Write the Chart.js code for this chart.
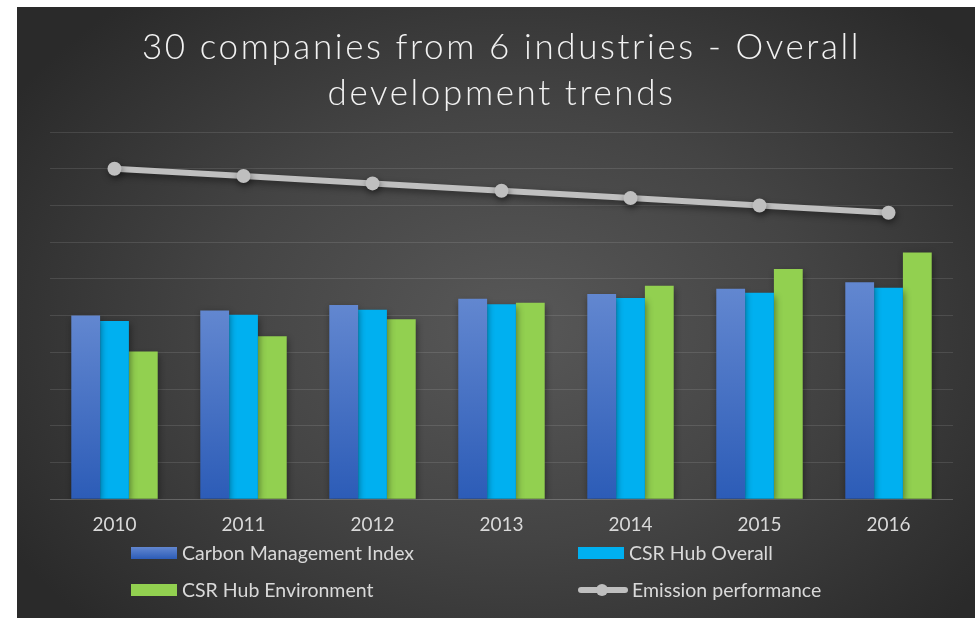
<!DOCTYPE html>
<html>
<head>
<meta charset="utf-8">
<title>30 companies from 6 industries - Overall development trends</title>
<script src="https://cdn.jsdelivr.net/npm/chart.js@4/dist/chart.umd.min.js"></script>
<style>
    body {
        margin: 0;
        background: #ffffff;
    }
    .chart-wrap {
        position: absolute;
        left: 17px;
        top: 7px;
        width: 958px;
        height: 611px;
        overflow: hidden;
        background: radial-gradient(ellipse 62% 70% at 52% 52%, #585858 0%, #444444 50%, #2a2a2a 100%);
    }
    #chart {
        display: block;
    }
    .legend {
        position: absolute;
        left: 114px;
        top: 527px;
        display: grid;
        grid-template-columns: 447px auto;
        grid-auto-rows: 37px;
        font-family: "Lato", "Open Sans", sans-serif;
        font-size: 19.5px;
        color: #d9d9d9;
    }
    .legend__item {
        display: flex;
        align-items: center;
    }
    .legend__box {
        width: 46px;
        height: 12px;
        margin-right: 5px;
    }
    .legend__line {
        position: relative;
        width: 50px;
        height: 6px;
        margin-right: 4px;
        border-radius: 3px;
    }
    .legend__line::after {
        content: "";
        position: absolute;
        left: 18px;
        top: -3px;
        width: 12px;
        height: 12px;
        border-radius: 50%;
        background: inherit;
    }
</style>
</head>
<body>
<div class="chart-wrap">
    <canvas id="chart" width="958" height="611"></canvas>
    <div class="legend" id="legend"></div>
</div>
<script>
const years = ["2010", "2011", "2012", "2013", "2014", "2015", "2016"];
const carbonIndex = [50.0, 51.4, 52.9, 54.6, 55.9, 57.3, 59.1];
const csrOverall = [48.5, 50.2, 51.6, 53.1, 54.8, 56.2, 57.6];
const csrEnvironment = [40.2, 44.4, 49.0, 53.5, 58.1, 62.7, 67.2];
const emission = [90, 88, 86, 84, 82, 80, 78];

const titleLines = ["30 companies from 6 industries - Overall", "development trends"];

// blue bars fade from light at the top to darker at the base
function blueGradient(context) {
    const chart = context.chart;
    const area = chart.chartArea;
    if (!area || context.raw === undefined) return "#4472c4";
    const top = chart.scales.y.getPixelForValue(context.raw);
    const g = chart.ctx.createLinearGradient(0, top, 0, area.bottom);
    g.addColorStop(0, "#6287d0");
    g.addColorStop(1, "#2c5cb7");
    return g;
}

// title letter spacing + soft shadows under marks
const lookPlugin = {
    id: "look",
    beforeDraw(chart) {
        chart.ctx.letterSpacing = "2.6px";
    },
    beforeDatasetsDraw(chart) {
        const ctx = chart.ctx;
        ctx.letterSpacing = "0px";
        ctx.save();
        ctx.shadowColor = "rgba(0, 0, 0, 0.45)";
        ctx.shadowBlur = 7;
        ctx.shadowOffsetX = 1;
        ctx.shadowOffsetY = 3;
    },
    afterDatasetsDraw(chart) {
        chart.ctx.restore();
    }
};

const chart = new Chart(document.getElementById("chart").getContext("2d"), {
    data: {
        labels: years,
        datasets: [
            {
                type: "line",
                label: "Emission performance",
                data: emission,
                order: 0,
                borderColor: "#bfbfbf",
                backgroundColor: "#bfbfbf",
                borderWidth: 6,
                pointRadius: 7,
                pointBorderWidth: 0,
                pointBackgroundColor: "#bfbfbf",
                tension: 0
            },
            {
                type: "bar",
                label: "Carbon Management Index",
                data: carbonIndex,
                order: 1,
                backgroundColor: blueGradient,
                legendColor: "linear-gradient(#6287d0, #2c5cb7)"
            },
            {
                type: "bar",
                label: "CSR Hub Overall",
                data: csrOverall,
                order: 1,
                backgroundColor: "#00b0f0"
            },
            {
                type: "bar",
                label: "CSR Hub Environment",
                data: csrEnvironment,
                order: 1,
                backgroundColor: "#92d050"
            }
        ]
    },
    options: {
        responsive: false,
        animation: false,
        layout: {
            padding: { left: 33, right: 22, top: 0, bottom: 68 }
        },
        datasets: {
            bar: {
                barPercentage: 1,
                categoryPercentage: 0.67,
                borderWidth: 0
            }
        },
        scales: {
            x: {
                grid: { display: false, drawTicks: false },
                border: { display: false },
                ticks: {
                    z: 1,
                    padding: 14,
                    color: "#d9d9d9",
                    font: { family: "'Lato', 'Open Sans', sans-serif", size: 19 }
                }
            },
            y: {
                min: 0,
                max: 100,
                ticks: { display: false, stepSize: 10 },
                border: { display: false },
                grid: {
                    drawTicks: false,
                    lineWidth: 1,
                    color: (c) => c.tick && c.tick.value === 0 ? "rgba(255,255,255,0.22)" : "rgba(255,255,255,0.11)"
                }
            }
        },
        plugins: {
            legend: { display: false },
            tooltip: { enabled: false },
            title: {
                display: true,
                text: titleLines,
                color: "#f2f2f2",
                font: { family: "'Lato', 'Open Sans', sans-serif", size: 35, weight: "300", lineHeight: 1.3 },
                padding: { top: 18, bottom: 16 }
            }
        }
    },
    plugins: [lookPlugin]
});

// legend in two columns, built from the datasets
const legendOrder = ["Carbon Management Index", "CSR Hub Overall", "CSR Hub Environment", "Emission performance"];
const legendEl = document.getElementById("legend");
legendOrder.forEach(function (name) {
    const ds = chart.data.datasets.find((d) => d.label === name);
    const item = document.createElement("div");
    item.className = "legend__item";
    const mark = document.createElement("span");
    if (ds.type === "line") {
        mark.className = "legend__line";
        mark.style.background = ds.borderColor;
    } else {
        mark.className = "legend__box";
        mark.style.background = ds.legendColor || ds.backgroundColor;
    }
    const text = document.createElement("span");
    text.textContent = ds.label;
    item.appendChild(mark);
    item.appendChild(text);
    legendEl.appendChild(item);
});
</script>
</body>
</html>
